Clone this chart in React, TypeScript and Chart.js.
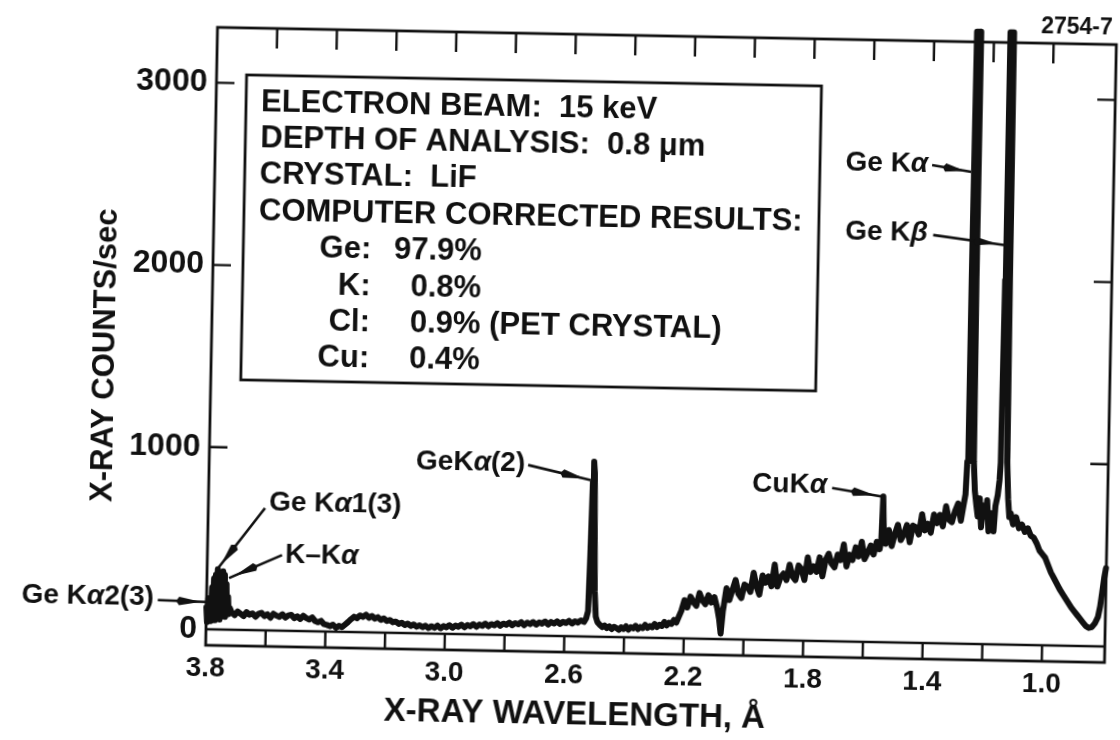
import { useEffect, useRef } from "react";
import { Chart, registerables } from "chart.js";

Chart.register(...registerables);

const FONT = "'Liberation Sans', Helvetica, Arial, sans-serif";
const INK = "#111111";

// ---- spectrum, [wavelength (Å), counts/sec] ----
const thirdOrderLines: [number, number][] = [
  [3.800, 120], [3.797, 40], [3.794, 170], [3.791, 50], [3.788, 160], [3.785, 45],
  [3.782, 230], [3.779, 55], [3.776, 280], [3.773, 50], [3.770, 300], [3.767, 60],
  [3.764, 330], [3.761, 70], [3.758, 300], [3.755, 55], [3.752, 290], [3.749, 70],
  [3.746, 320], [3.743, 80], [3.740, 300], [3.737, 70], [3.734, 250], [3.731, 90],
  [3.728, 180], [3.725, 85], [3.722, 120],
];

const longBaseline: [number, number][] = [
  [3.715, 95], [3.705, 80], [3.695, 100], [3.685, 88], [3.675, 76], [3.665, 98], [3.655, 84],
  [3.645, 92], [3.635, 74], [3.625, 90], [3.615, 96], [3.605, 78], [3.595, 88], [3.585, 70],
  [3.575, 92], [3.565, 82], [3.555, 76], [3.545, 90], [3.535, 72], [3.525, 84], [3.515, 88],
  [3.505, 70], [3.495, 80], [3.485, 66], [3.475, 84], [3.465, 72], [3.455, 64], [3.445, 76],
  [3.435, 56], [3.425, 50], [3.415, 58], [3.405, 40], [3.395, 36], [3.385, 30], [3.375, 38],
  [3.365, 22], [3.355, 32], [3.345, 26], [3.335, 40], [3.325, 54], [3.315, 70], [3.305, 84],
  [3.295, 76], [3.285, 92], [3.275, 84], [3.265, 96], [3.255, 80], [3.245, 90], [3.235, 76],
  [3.225, 84], [3.215, 70], [3.205, 78], [3.195, 64], [3.185, 70], [3.175, 58], [3.165, 62],
  [3.155, 50], [3.145, 56], [3.135, 44], [3.125, 52], [3.115, 40], [3.105, 48], [3.095, 36],
  [3.085, 44], [3.075, 34], [3.065, 42], [3.055, 30], [3.045, 40], [3.035, 32], [3.025, 44],
  [3.015, 30], [3.005, 42], [2.995, 36], [2.985, 48], [2.975, 34], [2.965, 46], [2.955, 40],
  [2.945, 52], [2.935, 38], [2.925, 50], [2.915, 44], [2.905, 56], [2.895, 42], [2.885, 54],
  [2.875, 48], [2.865, 60], [2.855, 46], [2.845, 58], [2.835, 52], [2.825, 64], [2.815, 50],
  [2.805, 62], [2.795, 56], [2.785, 68], [2.775, 54], [2.765, 66], [2.755, 60], [2.745, 72],
  [2.735, 56], [2.725, 70], [2.715, 62], [2.705, 74], [2.695, 60], [2.685, 72], [2.675, 66],
  [2.665, 78], [2.655, 62], [2.645, 76], [2.635, 68], [2.625, 80], [2.615, 66], [2.605, 78],
  [2.595, 72], [2.585, 84], [2.575, 70], [2.565, 82], [2.555, 76], [2.545, 88], [2.535, 80],
  [2.528, 100],
];

const secondOrderPeak: [number, number][] = [
  [2.522, 140], [2.518, 450], [2.514, 850], [2.511, 960], [2.508, 900], [2.505, 600],
  [2.501, 250], [2.496, 110], [2.49, 80],
];

const midBaseline: [number, number][] = [
  [2.482, 66], [2.474, 54], [2.466, 62], [2.458, 48], [2.45, 58], [2.442, 44], [2.434, 56],
  [2.426, 50], [2.418, 40], [2.41, 54], [2.402, 46], [2.394, 60], [2.386, 42], [2.378, 56],
  [2.37, 50], [2.362, 64], [2.354, 46], [2.346, 58], [2.338, 52], [2.33, 70], [2.322, 54],
  [2.314, 64], [2.306, 58], [2.298, 76], [2.29, 60], [2.282, 72], [2.274, 66], [2.266, 88],
  [2.258, 70], [2.25, 84], [2.242, 78], [2.234, 100], [2.226, 86], [2.218, 118],
];

const risingBackground: [number, number][] = [
  [2.21, 150], [2.20, 210], [2.19, 170], [2.18, 230], [2.17, 200], [2.16, 180], [2.15, 250],
  [2.14, 210], [2.13, 190], [2.12, 240], [2.11, 200], [2.10, 230], [2.09, 170], [2.083, 110],
  [2.077, 30], [2.071, 150], [2.06, 280], [2.05, 215], [2.04, 271], [2.03, 326], [2.02, 251],
  [2.01, 227], [2.00, 302], [1.99, 292], [1.98, 262], [1.97, 368], [1.96, 293], [1.95, 248],
  [1.94, 354], [1.93, 314], [1.92, 349], [1.91, 295], [1.90, 415], [1.89, 295], [1.88, 345],
  [1.87, 366], [1.86, 331], [1.85, 416], [1.84, 352], [1.83, 332], [1.82, 412], [1.81, 393],
  [1.80, 333], [1.79, 458], [1.78, 378], [1.77, 409], [1.76, 379], [1.75, 459], [1.74, 355],
  [1.73, 445], [1.72, 480], [1.71, 426], [1.70, 406], [1.69, 476], [1.68, 446], [1.67, 532],
  [1.66, 412], [1.65, 477], [1.64, 448], [1.63, 518], [1.62, 468], [1.61, 549], [1.60, 454],
  [1.59, 489], [1.58, 529], [1.57, 480], [1.56, 550], [1.55, 510],
];

const copperRegion: [number, number][] = [
  [1.545, 560], [1.541, 800], [1.537, 600], [1.53, 540], [1.52, 616], [1.51, 528],
  [1.50, 594], [1.49, 646], [1.48, 562], [1.47, 593], [1.46, 645], [1.45, 551], [1.44, 643],
  [1.43, 634], [1.42, 595], [1.41, 707], [1.40, 618], [1.39, 655], [1.38, 606], [1.37, 707],
  [1.36, 659], [1.35, 705], [1.34, 642], [1.33, 753], [1.32, 679], [1.31, 666], [1.30, 727],
  [1.29, 769], [1.28, 675], [1.272, 760],
];

const germaniumK: [number, number][] = [
  [1.266, 820], [1.262, 1000], [1.259, 2000], [1.257, 3360], [1.245, 3360], [1.243, 2000],
  [1.240, 1000], [1.235, 840], [1.229, 760], [1.224, 700], [1.218, 800], [1.212, 640],
  [1.206, 760], [1.199, 700], [1.193, 790], [1.187, 620], [1.181, 720], [1.175, 680],
  [1.170, 620], [1.165, 760], [1.158, 820], [1.153, 900], [1.150, 1000], [1.147, 2000],
  [1.145, 3360], [1.133, 3360], [1.131, 2000], [1.128, 1000], [1.123, 800], [1.118, 700],
];

const shortTail: [number, number][] = [
  [1.113, 720], [1.105, 660], [1.095, 700], [1.085, 640], [1.075, 660], [1.065, 620],
  [1.055, 640], [1.045, 600], [1.035, 590], [1.025, 560], [1.015, 520], [1.005, 500],
  [0.995, 480], [0.985, 440], [0.975, 400], [0.965, 370], [0.955, 340], [0.945, 310],
  [0.935, 285], [0.925, 260], [0.915, 235], [0.905, 210], [0.895, 190], [0.885, 170],
  [0.875, 150], [0.865, 130], [0.855, 110], [0.845, 100], [0.835, 105], [0.825, 125],
  [0.815, 160], [0.808, 220], [0.802, 300], [0.796, 380], [0.791, 430],
];

// ---- axes ----
const xTicks = [3.8, 3.6, 3.4, 3.2, 3.0, 2.8, 2.6, 2.4, 2.2, 2.0, 1.8, 1.6, 1.4, 1.2, 1.0];
const xTickLabels = ["3.8", "", "3.4", "", "3.0", "", "2.6", "", "2.2", "", "1.8", "", "1.4", "", "1.0"];
const yTicks = [0, 1000, 2000, 3000];
const frameYTicks = [1000, 2000, 3000];
const xRange = [0.79, 3.8];
const yRange = [-88, 3304];

// ---- texts ----
const xTitle = "X-RAY WAVELENGTH, Å";
const yTitle = "X-RAY COUNTS/sec";
const figureId = "2754-7";
const infoLines = [
  "ELECTRON BEAM:  15 keV",
  "DEPTH OF ANALYSIS:  0.8 μm",
  "CRYSTAL:  LiF",
  "COMPUTER CORRECTED RESULTS:",
];
const resultElements = ["Ge:", "K:", "Cl:", "Cu:"];
const resultValues = ["97.9%", "0.8%", "0.9% (PET CRYSTAL)", "0.4%"];

type Part = [string, boolean];
type Note = { parts: Part[]; at: [number, number]; align: "left" | "right"; from: [number, number]; to: [number, number] };
const peakNotes: Note[] = [
  { parts: [["Ge K", false], ["α", true]], at: [1.412, 2629], align: "right", from: [1.399, 2623], to: [1.268, 2590] },
  { parts: [["Ge K", false], ["β", true]], at: [1.409, 2246], align: "right", from: [1.391, 2240], to: [1.154, 2193] },
  { parts: [["GeK", false], ["α", true], ["(2)", false]], at: [2.742, 945], align: "right", from: [2.732, 935], to: [2.522, 859] },
  { parts: [["CuK", false], ["α", true]], at: [1.730, 853], align: "right", from: [1.713, 841], to: [1.548, 800] },
  { parts: [["Ge K", false], ["α", true], ["1(3)", false]], at: [3.597, 699], align: "left", from: [3.610, 671], to: [3.766, 330] },
  { parts: [["K–K", false], ["α", true]], at: [3.540, 415], align: "left", from: [3.550, 415], to: [3.726, 283] },
  { parts: [["Ge K", false], ["α", true], ["2(3)", false]], at: [3.976, 166], align: "right", from: [3.963, 155], to: [3.798, 149] },
];

const spectrum = [
  ...thirdOrderLines, ...longBaseline, ...secondOrderPeak, ...midBaseline,
  ...risingBackground, ...copperRegion, ...germaniumK, ...shortTail,
];

function font(size: number, italic = false) {
  return `${italic ? "italic " : ""}bold ${size}px ${FONT}`;
}

function drawParts(ctx: CanvasRenderingContext2D, parts: Part[], x: number, y: number, align: "left" | "right", size: number) {
  const widths = parts.map(([t, it]) => {
    ctx.font = font(size, it);
    return ctx.measureText(t).width;
  });
  const total = widths.reduce((s, w) => s + w, 0);
  let cx = align === "right" ? x - total : x;
  ctx.textAlign = "left";
  ctx.textBaseline = "middle";
  parts.forEach(([t, it], i) => {
    ctx.font = font(size, it);
    ctx.fillText(t, cx, y);
    cx += widths[i];
  });
}

function drawArrow(ctx: CanvasRenderingContext2D, x1: number, y1: number, x2: number, y2: number) {
  const dx = x2 - x1;
  const dy = y2 - y1;
  const len = Math.hypot(dx, dy);
  const ux = dx / len;
  const uy = dy / len;
  ctx.lineWidth = 2.6;
  ctx.beginPath();
  ctx.moveTo(x1, y1);
  ctx.lineTo(x2, y2);
  ctx.stroke();
  const headLen = Math.min(22, len * 0.5);
  const tipX = x2 - ux * 6;
  const tipY = y2 - uy * 6;
  const baseX = tipX - ux * headLen;
  const baseY = tipY - uy * headLen;
  const w = 4.2;
  ctx.beginPath();
  ctx.moveTo(tipX, tipY);
  ctx.lineTo(baseX - uy * w, baseY + ux * w);
  ctx.lineTo(baseX - ux * 3, baseY - uy * 3);
  ctx.lineTo(baseX + uy * w, baseY - ux * w);
  ctx.closePath();
  ctx.fill();
}

const figurePlugin = {
  id: "figureDecor",
  beforeDatasetsDraw(chart: any) {
    const { ctx, chartArea: a, scales } = chart;
    const xs = scales.x;
    const ys = scales.y;
    const y0 = ys.getPixelForValue(0);
    ctx.save();
    ctx.strokeStyle = INK;
    ctx.fillStyle = INK;
    ctx.lineWidth = 2.8;
    ctx.strokeRect(a.left, a.top, a.right - a.left, a.bottom - a.top);
    ctx.beginPath();
    ctx.moveTo(a.left, y0);
    ctx.lineTo(a.right, y0);
    ctx.lineWidth = 2.4;
    xTicks.forEach((v) => {
      if (v === xRange[1]) return;
      const px = xs.getPixelForValue(v);
      ctx.moveTo(px, y0);
      ctx.lineTo(px, a.bottom);
      ctx.moveTo(px, a.top);
      ctx.lineTo(px, a.top + 20);
    });
    frameYTicks.forEach((v) => {
      const py = ys.getPixelForValue(v);
      ctx.moveTo(a.left, py);
      ctx.lineTo(a.left + 18, py);
      ctx.moveTo(a.right, py);
      ctx.lineTo(a.right - 18, py);
    });
    ctx.stroke();

    // information box
    const bl = a.left + 30;
    const bt = a.top + 47;
    const bw = 575;
    const bh = 305;
    ctx.lineWidth = 2.8;
    ctx.strokeRect(bl, bt, bw, bh);
    ctx.font = font(31);
    ctx.textBaseline = "middle";
    ctx.textAlign = "left";
    const step = 36.4;
    const first = bt + 27;
    infoLines.forEach((t, i) => ctx.fillText(t, bl + 15, first + i * step));
    const zeroW = ctx.measureText("0").width;
    resultElements.forEach((t, i) => {
      const yy = first + (infoLines.length + i) * step;
      ctx.textAlign = "right";
      ctx.fillText(t, bl + 128, yy);
      ctx.textAlign = "left";
      const v = resultValues[i];
      const intPart = v.slice(0, v.indexOf("."));
      const start = bl + 168 + zeroW - ctx.measureText(intPart).width;
      ctx.fillText(v, start, yy);
    });
    ctx.restore();
  },
  afterDatasetsDraw(chart: any) {
    const { ctx, chartArea: a, scales } = chart;
    const xs = scales.x;
    const ys = scales.y;
    ctx.save();
    ctx.fillStyle = INK;
    ctx.strokeStyle = INK;
    peakNotes.forEach((n) => {
      drawParts(ctx, n.parts, xs.getPixelForValue(n.at[0]), ys.getPixelForValue(n.at[1]), n.align, 28);
      drawArrow(
        ctx,
        xs.getPixelForValue(n.from[0]), ys.getPixelForValue(n.from[1]),
        xs.getPixelForValue(n.to[0]), ys.getPixelForValue(n.to[1]),
      );
    });
    // figure number
    ctx.font = font(23);
    ctx.textAlign = "right";
    ctx.textBaseline = "middle";
    ctx.fillText(figureId, a.right - 4, a.top - 16);
    // axis titles
    ctx.font = font(33);
    ctx.textAlign = "center";
    ctx.fillText(xTitle, a.left + 370, a.bottom + 63);
    ctx.translate(a.left - 106, (a.top + a.bottom) / 2 + 21);
    ctx.rotate(-Math.PI / 2);
    ctx.font = font(31);
    ctx.fillText(yTitle, 0, 0);
    ctx.restore();
  },
};

export default function App() {
  const canvasRef = useRef<HTMLCanvasElement | null>(null);

  useEffect(() => {
    document.body.style.margin = "0";
    const canvas = canvasRef.current;
    if (!canvas) return;
    const chart = new Chart(canvas, {
      type: "line",
      data: {
        datasets: [
          {
            data: spectrum.map(([x, y]) => ({ x, y })),
            borderColor: INK,
            borderWidth: 6,
            pointRadius: 0,
            tension: 0,
            borderJoinStyle: "round",
            borderCapStyle: "round",
            clip: false as any,
          },
        ],
      },
      options: {
        animation: false,
        responsive: false,
        devicePixelRatio: 1,
        events: [],
        layout: { padding: { left: 0, right: 10, top: 34, bottom: 0 } },
        plugins: { legend: { display: false }, tooltip: { enabled: false }, title: { display: false } },
        scales: {
          x: {
            type: "linear",
            reverse: true,
            min: xRange[0],
            max: xRange[1],
            grid: { display: false, drawTicks: false },
            border: { display: false },
            afterBuildTicks: (s: any) => {
              s.ticks = xTicks.map((v) => ({ value: v }));
            },
            afterFit: (s: any) => {
              s.height = 88;
            },
            ticks: {
              autoSkip: false,
              maxRotation: 0,
              minRotation: 0,
              padding: 6,
              color: INK,
              font: { family: FONT, weight: "bold", size: 28 },
              callback: (value: any) => {
                const i = xTicks.findIndex((t) => Math.abs(t - Number(value)) < 1e-6);
                return i >= 0 ? xTickLabels[i] : "";
              },
            },
          },
          y: {
            type: "linear",
            min: yRange[0],
            max: yRange[1],
            grid: { display: false, drawTicks: false },
            border: { display: false },
            afterBuildTicks: (s: any) => {
              s.ticks = yTicks.map((v) => ({ value: v }));
            },
            afterFit: (s: any) => {
              s.width = 211;
            },
            ticks: {
              padding: 9,
              color: INK,
              font: { family: FONT, weight: "bold", size: 32 },
              callback: (value: any) => String(value),
            },
          },
        },
      },
      plugins: [figurePlugin],
    });
    return () => chart.destroy();
  }, []);

  return (
    <div
      style={{
        position: "fixed",
        left: 0,
        top: 0,
        width: 1120,
        height: 740,
        background: "#fff",
        transform: "rotate(1.1deg)",
        transformOrigin: "560px 370px",
      }}
    >
      <canvas ref={canvasRef} width={1120} height={740} style={{ display: "block" }} />
    </div>
  );
}
